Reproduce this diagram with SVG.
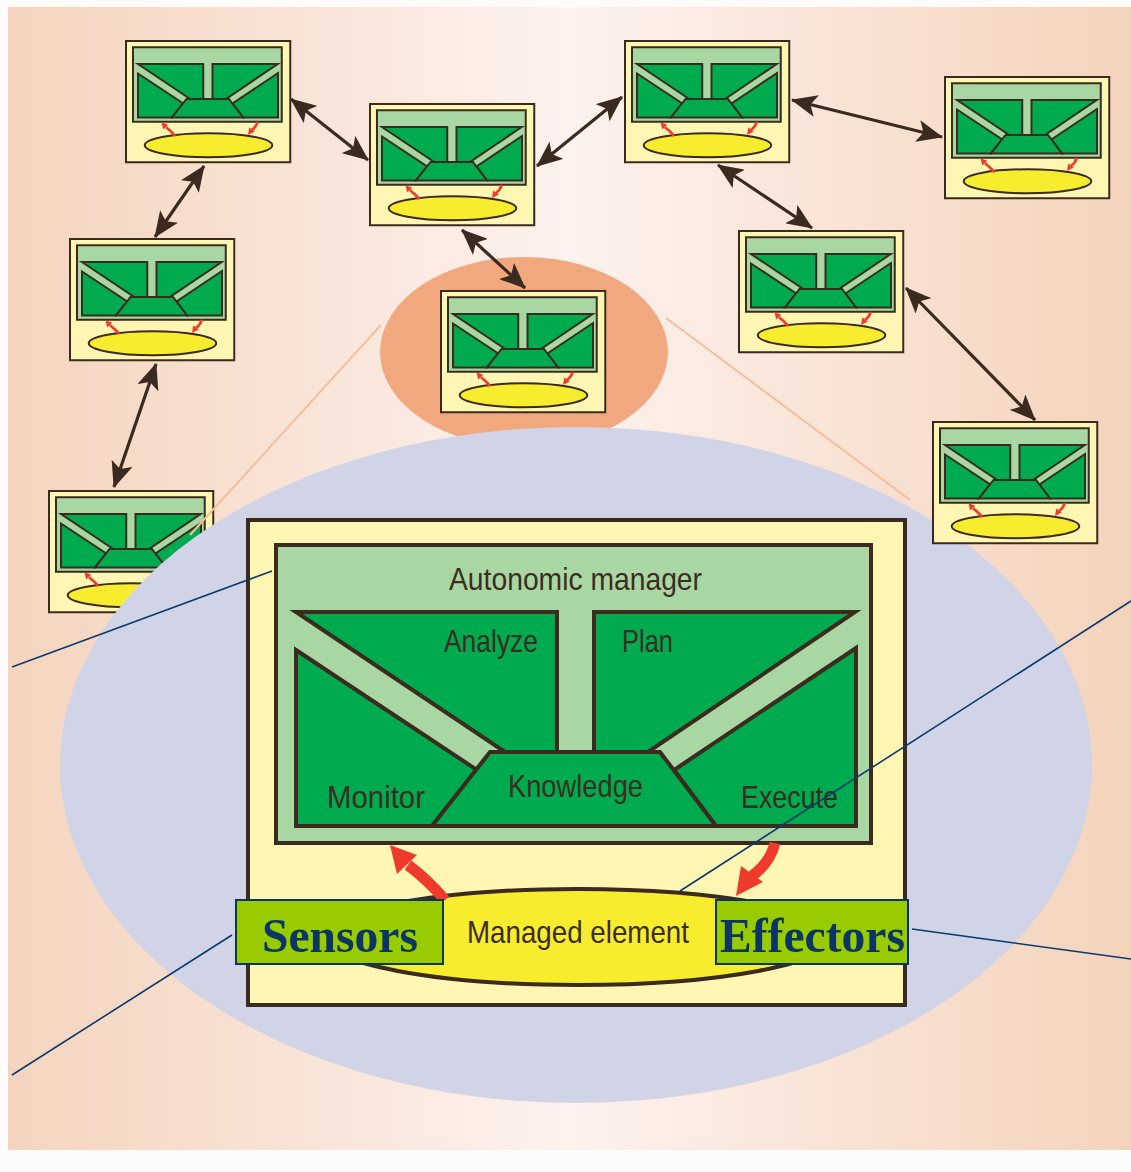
<svg xmlns="http://www.w3.org/2000/svg" xmlns:xlink="http://www.w3.org/1999/xlink" width="1131" height="1172" viewBox="0 0 1131 1172">
<style>
.fr{stroke:#3b2a1e;stroke-linejoin:miter}
.g{fill:#00aa4e;stroke:#3b2a1e}
.lbl{font-family:"Liberation Sans",Arial,sans-serif;font-size:32px;fill:#3b2d22}
.tag{fill:#99cc00;stroke:#0a3566;stroke-width:2}
.tagt{font-family:"Liberation Serif","Times New Roman",serif;font-weight:bold;font-size:49px;fill:#0a3566}
.blue{stroke:#0a3a6e;stroke-width:1.6;fill:none}
.cone{stroke:#f4bf98;stroke-width:2;fill:none}
.arr{stroke:#3a2a20;stroke-width:3.2;fill:none;marker-start:url(#ah);marker-end:url(#ah)}
</style>
<defs>
<linearGradient id="bg" x1="0" y1="0" x2="1" y2="0">
<stop offset="0" stop-color="#f4d4be"/>
<stop offset="0.5" stop-color="#fdf2ee"/>
<stop offset="1" stop-color="#f4d3bb"/>
</linearGradient>
<marker id="ah" viewBox="0 0 26 22" refX="25" refY="11" markerWidth="26" markerHeight="22" markerUnits="userSpaceOnUse" orient="auto-start-reverse">
<path d="M0,0 L26,11 L0,22 L6,11 z" fill="#3a2a20"/>
</marker>
<g id="am">
<rect x="0" y="0" width="657" height="485" fill="#fff6b3" class="fr"/>
<rect x="28" y="25" width="595" height="298" fill="#a9d7a3" class="fr"/>
<polygon points="48,92 309,92 309,232 257,232" class="g"/>
<polygon points="48,130 229,250 184,306 48,306" class="g"/>
<polygon points="346,92 607,92 400,232 346,232" class="g"/>
<polygon points="608,128 426,250 468,306 608,306" class="g"/>
<polygon points="242,232 412,232 468,306 184,306" class="g"/>
<ellipse cx="330" cy="417" rx="255" ry="48" fill="#f7ec2e" class="fr"/>
<path d="M197,380 Q180,360 160,345" stroke="#ee3b2b" stroke-width="11" fill="none"/>
<polygon points="142,325 169,335 149,354" fill="#ee3b2b"/>
<path d="M527,323 Q522,343 504,356" stroke="#ee3b2b" stroke-width="11" fill="none"/>
<polygon points="488,376 515,362 493,346" fill="#ee3b2b"/>
</g>
</defs>
<rect x="0" y="0" width="1131" height="1172" fill="#fefcfb"/>
<rect x="8" y="7" width="1123" height="1143" fill="url(#bg)"/>
<ellipse id="focus" cx="524" cy="352" rx="144" ry="95" fill="#f2a87e"/>
<g id="node8"><use xlink:href="#am" transform="translate(49,491) scale(0.25)" stroke-width="8"/></g>
<g id="cone">
<line class="cone" x1="381" y1="325" x2="190" y2="535"/>
<line class="cone" x1="666" y1="318" x2="910" y2="500"/>
</g>
<ellipse id="zoom" cx="576" cy="765" rx="516" ry="338" fill="#d1d3e7"/>
<g id="node1"><use xlink:href="#am" transform="translate(126,41) scale(0.25)" stroke-width="8"/></g>
<g id="node2"><use xlink:href="#am" transform="translate(370,104) scale(0.25)" stroke-width="8"/></g>
<g id="node3"><use xlink:href="#am" transform="translate(625,41) scale(0.25)" stroke-width="8"/></g>
<g id="node4"><use xlink:href="#am" transform="translate(945,77) scale(0.25)" stroke-width="8"/></g>
<g id="node5"><use xlink:href="#am" transform="translate(70,239) scale(0.25)" stroke-width="8"/></g>
<g id="node6"><use xlink:href="#am" transform="translate(739,231) scale(0.25)" stroke-width="8"/></g>
<g id="node7"><use xlink:href="#am" transform="translate(441,291) scale(0.25)" stroke-width="8"/></g>
<g id="node9"><use xlink:href="#am" transform="translate(933,422) scale(0.25)" stroke-width="8"/></g>
<g id="connectors">
<line class="arr" x1="291" y1="99" x2="368" y2="160"/>
<line class="arr" x1="204" y1="166" x2="155" y2="237"/>
<line class="arr" x1="156" y1="364" x2="114" y2="487"/>
<line class="arr" x1="537" y1="166" x2="622" y2="97"/>
<line class="arr" x1="462" y1="230" x2="525" y2="288"/>
<line class="arr" x1="792" y1="100" x2="942" y2="137"/>
<line class="arr" x1="718" y1="165" x2="812" y2="228"/>
<line class="arr" x1="906" y1="288" x2="1035" y2="420"/>
</g>
<g id="detail">
<use xlink:href="#am" transform="translate(248,520)" stroke-width="4"/>
<text class="lbl" x="449" y="590" textLength="253" lengthAdjust="spacingAndGlyphs">Autonomic manager</text>
<text class="lbl" x="444" y="652" textLength="94" lengthAdjust="spacingAndGlyphs">Analyze</text>
<text class="lbl" x="622" y="652" textLength="51" lengthAdjust="spacingAndGlyphs">Plan</text>
<text class="lbl" x="327" y="808" textLength="98" lengthAdjust="spacingAndGlyphs">Monitor</text>
<text class="lbl" x="508" y="797" textLength="135" lengthAdjust="spacingAndGlyphs">Knowledge</text>
<text class="lbl" x="741" y="808" textLength="97" lengthAdjust="spacingAndGlyphs">Execute</text>
<text class="lbl" x="467" y="943" textLength="222" lengthAdjust="spacingAndGlyphs">Managed element</text>
</g>
<g id="callouts">
<line class="blue" x1="12" y1="667" x2="272" y2="571"/>
<line class="blue" x1="12" y1="1075" x2="232" y2="935"/>
<line class="blue" x1="912" y1="929" x2="1131" y2="959"/>
<line class="blue" x1="680" y1="891" x2="1131" y2="601"/>
</g>
<g id="sensors">
<rect class="tag" x="236" y="900" width="207" height="64"/>
<text class="tagt" x="262" y="952" textLength="156" lengthAdjust="spacingAndGlyphs">Sensors</text>
</g>
<g id="effectors">
<rect class="tag" x="716" y="900" width="192" height="64"/>
<text class="tagt" x="720" y="952" textLength="185" lengthAdjust="spacingAndGlyphs">Effectors</text>
</g>
</svg>
